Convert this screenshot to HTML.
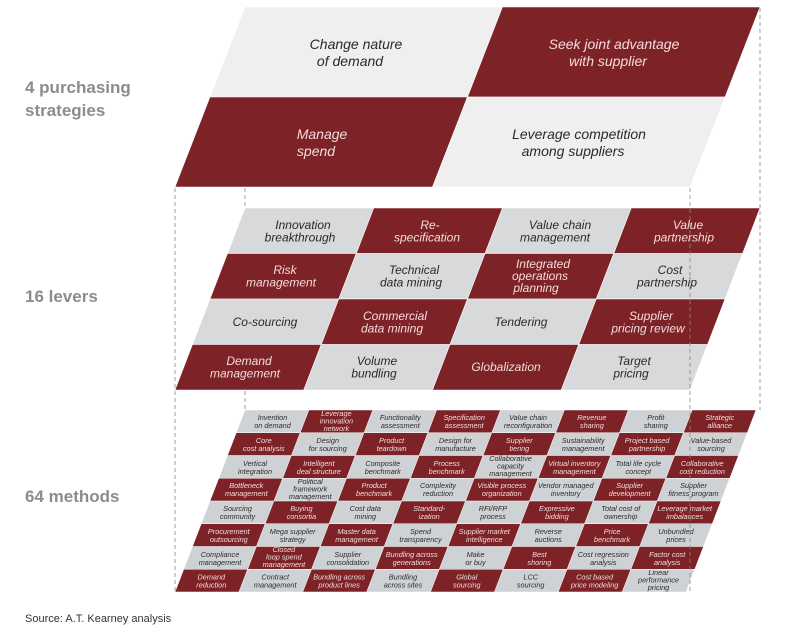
<!DOCTYPE html>
<html><head><meta charset="utf-8"><style>
html,body{margin:0;padding:0;background:#fff;}
svg{display:block;font-family:"Liberation Sans",sans-serif;}
.l{font-style:italic;fill:#2a2a2a;text-anchor:middle;}
.r{font-style:italic;fill:#f4dcdc;text-anchor:middle;}
.t{font-size:14px}.m{font-size:12px}.s{font-size:7.3px}
.lab{font-weight:bold;fill:#8c8c8c;font-size:17px}
</style></head><body>
<svg width="797" height="627" viewBox="0 0 797 627" xmlns="http://www.w3.org/2000/svg">
<!-- top layer -->
<g transform="translate(175,187) skewX(-21.25)" stroke="#fff" stroke-width="0.6">
<rect x="0" y="-180" width="257.5" height="90" fill="#efefef"/>
<rect x="257.5" y="-180" width="257.5" height="90" fill="#7d2328"/>
<rect x="0" y="-90" width="257.5" height="90" fill="#7d2328"/>
<rect x="257.5" y="-90" width="257.5" height="90" fill="#efefef"/>
</g>
<text class="l t" x="356" y="49">Change nature<tspan x="350" dy="17">of demand</tspan></text>
<text class="r t" x="614" y="49">Seek joint advantage<tspan x="608" dy="17">with supplier</tspan></text>
<text class="r t" x="322" y="139">Manage<tspan x="316" dy="17">spend</tspan></text>
<text class="l t" x="579" y="139">Leverage competition<tspan x="573" dy="17">among suppliers</tspan></text>

<!-- middle layer -->
<g transform="translate(175,390) skewX(-21.04)" stroke="#fff" stroke-width="0.6">
<rect x="0" y="-182" width="128.75" height="45.5" fill="#d7d9db"/>
<rect x="128.75" y="-182" width="128.75" height="45.5" fill="#7d2328"/>
<rect x="257.5" y="-182" width="128.75" height="45.5" fill="#d7d9db"/>
<rect x="386.25" y="-182" width="128.75" height="45.5" fill="#7d2328"/>
<rect x="0" y="-136.5" width="128.75" height="45.5" fill="#7d2328"/>
<rect x="128.75" y="-136.5" width="128.75" height="45.5" fill="#d7d9db"/>
<rect x="257.5" y="-136.5" width="128.75" height="45.5" fill="#7d2328"/>
<rect x="386.25" y="-136.5" width="128.75" height="45.5" fill="#d7d9db"/>
<rect x="0" y="-91" width="128.75" height="45.5" fill="#d7d9db"/>
<rect x="128.75" y="-91" width="128.75" height="45.5" fill="#7d2328"/>
<rect x="257.5" y="-91" width="128.75" height="45.5" fill="#d7d9db"/>
<rect x="386.25" y="-91" width="128.75" height="45.5" fill="#7d2328"/>
<rect x="0" y="-45.5" width="128.75" height="45.5" fill="#7d2328"/>
<rect x="128.75" y="-45.5" width="128.75" height="45.5" fill="#d7d9db"/>
<rect x="257.5" y="-45.5" width="128.75" height="45.5" fill="#7d2328"/>
<rect x="386.25" y="-45.5" width="128.75" height="45.5" fill="#d7d9db"/>
</g>
<text class="l m" x="303" y="229">Innovation<tspan x="300" dy="12.5">breakthrough</tspan></text>
<text class="r m" x="430" y="229">Re-<tspan x="427" dy="12.5">specification</tspan></text>
<text class="l m" x="560" y="229">Value chain<tspan x="555" dy="12.5">management</tspan></text>
<text class="r m" x="688" y="229">Value<tspan x="684" dy="12.5">partnership</tspan></text>
<text class="r m" x="285" y="274">Risk<tspan x="281" dy="12.5">management</tspan></text>
<text class="l m" x="414" y="274">Technical<tspan x="411" dy="12.5">data mining</tspan></text>
<text class="r m" x="543" y="268">Integrated<tspan x="540" dy="12">operations</tspan><tspan x="536" dy="12">planning</tspan></text>
<text class="l m" x="670" y="274">Cost<tspan x="667" dy="12.5">partnership</tspan></text>
<text class="l m" x="265" y="326">Co-sourcing</text>
<text class="r m" x="395" y="320">Commercial<tspan x="392" dy="12.5">data mining</tspan></text>
<text class="l m" x="521" y="326">Tendering</text>
<text class="r m" x="651" y="320">Supplier<tspan x="648" dy="12.5">pricing review</tspan></text>
<text class="r m" x="249" y="365">Demand<tspan x="245" dy="12.5">management</tspan></text>
<text class="l m" x="377" y="365">Volume<tspan x="374" dy="12.5">bundling</tspan></text>
<text class="r m" x="506" y="371">Globalization</text>
<text class="l m" x="634" y="365">Target<tspan x="631" dy="12.5">pricing</tspan></text>

<!-- bottom layer -->
<g transform="translate(175,592) skewX(-21.04)" stroke="#fff" stroke-width="0.5">
<g fill="#cfd2d5"><rect x="0" y="-182" width="511" height="182"/></g>
<g fill="#7d2328">
<rect x="63.875" y="-182" width="63.875" height="22.75"/><rect x="191.625" y="-182" width="63.875" height="22.75"/><rect x="319.375" y="-182" width="63.875" height="22.75"/><rect x="447.125" y="-182" width="63.875" height="22.75"/>
<rect x="0" y="-159.25" width="63.875" height="22.75"/><rect x="127.75" y="-159.25" width="63.875" height="22.75"/><rect x="255.5" y="-159.25" width="63.875" height="22.75"/><rect x="383.25" y="-159.25" width="63.875" height="22.75"/>
<rect x="63.875" y="-136.5" width="63.875" height="22.75"/><rect x="191.625" y="-136.5" width="63.875" height="22.75"/><rect x="319.375" y="-136.5" width="63.875" height="22.75"/><rect x="447.125" y="-136.5" width="63.875" height="22.75"/>
<rect x="0" y="-113.75" width="63.875" height="22.75"/><rect x="127.75" y="-113.75" width="63.875" height="22.75"/><rect x="255.5" y="-113.75" width="63.875" height="22.75"/><rect x="383.25" y="-113.75" width="63.875" height="22.75"/>
<rect x="63.875" y="-91" width="63.875" height="22.75"/><rect x="191.625" y="-91" width="63.875" height="22.75"/><rect x="319.375" y="-91" width="63.875" height="22.75"/><rect x="447.125" y="-91" width="63.875" height="22.75"/>
<rect x="0" y="-68.25" width="63.875" height="22.75"/><rect x="127.75" y="-68.25" width="63.875" height="22.75"/><rect x="255.5" y="-68.25" width="63.875" height="22.75"/><rect x="383.25" y="-68.25" width="63.875" height="22.75"/>
<rect x="63.875" y="-45.5" width="63.875" height="22.75"/><rect x="191.625" y="-45.5" width="63.875" height="22.75"/><rect x="319.375" y="-45.5" width="63.875" height="22.75"/><rect x="447.125" y="-45.5" width="63.875" height="22.75"/>
<rect x="0" y="-22.75" width="63.875" height="22.75"/><rect x="127.75" y="-22.75" width="63.875" height="22.75"/><rect x="255.5" y="-22.75" width="63.875" height="22.75"/><rect x="383.25" y="-22.75" width="63.875" height="22.75"/>
</g></g>
<!-- row0 y 421.4 shift 65.6 -->
<text class="l s" x="272.5" y="420">Invention<tspan x="272.5" dy="8">on demand</tspan></text>
<text class="r s" x="336.4" y="416">Leverage<tspan x="336.4" dy="7.5">innovation</tspan><tspan x="336.4" dy="7.5">network</tspan></text>
<text class="l s" x="400.3" y="420">Functionality<tspan x="400.3" dy="8">assessment</tspan></text>
<text class="r s" x="464.2" y="420">Specification<tspan x="464.2" dy="8">assessment</tspan></text>
<text class="l s" x="528" y="420">Value chain<tspan x="528" dy="8">reconfiguration</tspan></text>
<text class="r s" x="591.9" y="420">Revenue<tspan x="591.9" dy="8">sharing</tspan></text>
<text class="l s" x="655.8" y="420">Profit<tspan x="655.8" dy="8">sharing</tspan></text>
<text class="r s" x="719.7" y="420">Strategic<tspan x="719.7" dy="8">alliance</tspan></text>
<!-- row1 y 444.1 shift 56.9 -->
<text class="r s" x="263.8" y="443">Core<tspan x="263.8" dy="8">cost analysis</tspan></text>
<text class="l s" x="327.7" y="443">Design<tspan x="327.7" dy="8">for sourcing</tspan></text>
<text class="r s" x="391.6" y="443">Product<tspan x="391.6" dy="8">teardown</tspan></text>
<text class="l s" x="455.5" y="443">Design for<tspan x="455.5" dy="8">manufacture</tspan></text>
<text class="r s" x="519.3" y="443">Supplier<tspan x="519.3" dy="8">tiering</tspan></text>
<text class="l s" x="583.2" y="443">Sustainability<tspan x="583.2" dy="8">management</tspan></text>
<text class="r s" x="647.1" y="443">Project based<tspan x="647.1" dy="8">partnership</tspan></text>
<text class="l s" x="711" y="443">Value-based<tspan x="711" dy="8">sourcing</tspan></text>
<!-- row2 y 466.9 shift 48.1 -->
<text class="l s" x="255" y="466">Vertical<tspan x="255" dy="8">integration</tspan></text>
<text class="r s" x="318.9" y="466">Intelligent<tspan x="318.9" dy="8">deal structure</tspan></text>
<text class="l s" x="382.8" y="466">Composite<tspan x="382.8" dy="8">benchmark</tspan></text>
<text class="r s" x="446.7" y="466">Process<tspan x="446.7" dy="8">benchmark</tspan></text>
<text class="l s" x="510.5" y="461">Collaborative<tspan x="510.5" dy="7.5">capacity</tspan><tspan x="510.5" dy="7.5">management</tspan></text>
<text class="r s" x="574.4" y="466">Virtual inventory<tspan x="574.4" dy="8">management</tspan></text>
<text class="l s" x="638.3" y="466">Total life cycle<tspan x="638.3" dy="8">concept</tspan></text>
<text class="r s" x="702.2" y="466">Collaborative<tspan x="702.2" dy="8">cost reduction</tspan></text>
<!-- row3 y 489.6 shift 39.4 -->
<text class="r s" x="246.3" y="488">Bottleneck<tspan x="246.3" dy="8">management</tspan></text>
<text class="l s" x="310.2" y="484">Political<tspan x="310.2" dy="7.5">framework</tspan><tspan x="310.2" dy="7.5">management</tspan></text>
<text class="r s" x="374.1" y="488">Product<tspan x="374.1" dy="8">benchmark</tspan></text>
<text class="l s" x="438" y="488">Complexity<tspan x="438" dy="8">reduction</tspan></text>
<text class="r s" x="501.8" y="488">Visible process<tspan x="501.8" dy="8">organization</tspan></text>
<text class="l s" x="565.7" y="488">Vendor managed<tspan x="565.7" dy="8">inventory</tspan></text>
<text class="r s" x="629.6" y="488">Supplier<tspan x="629.6" dy="8">development</tspan></text>
<text class="l s" x="693.5" y="488">Supplier<tspan x="693.5" dy="8">fitness program</tspan></text>
<!-- row4 y 512.4 shift 30.6 -->
<text class="l s" x="237.5" y="511">Sourcing<tspan x="237.5" dy="8">community</tspan></text>
<text class="r s" x="301.4" y="511">Buying<tspan x="301.4" dy="8">consortia</tspan></text>
<text class="l s" x="365.3" y="511">Cost data<tspan x="365.3" dy="8">mining</tspan></text>
<text class="r s" x="429.2" y="511">Standard-<tspan x="429.2" dy="8">ization</tspan></text>
<text class="l s" x="493" y="511">RFI/RFP<tspan x="493" dy="8">process</tspan></text>
<text class="r s" x="556.9" y="511">Expressive<tspan x="556.9" dy="8">bidding</tspan></text>
<text class="l s" x="620.8" y="511">Total cost of<tspan x="620.8" dy="8">ownership</tspan></text>
<text class="r s" x="684.7" y="511">Leverage market<tspan x="684.7" dy="8">imbalances</tspan></text>
<!-- row5 y 535.1 shift 21.9 -->
<text class="r s" x="228.8" y="534">Procurement<tspan x="228.8" dy="8">outsourcing</tspan></text>
<text class="l s" x="292.7" y="534">Mega supplier<tspan x="292.7" dy="8">strategy</tspan></text>
<text class="r s" x="356.6" y="534">Master data<tspan x="356.6" dy="8">management</tspan></text>
<text class="l s" x="420.5" y="534">Spend<tspan x="420.5" dy="8">transparency</tspan></text>
<text class="r s" x="484.3" y="534">Supplier market<tspan x="484.3" dy="8">intelligence</tspan></text>
<text class="l s" x="548.2" y="534">Reverse<tspan x="548.2" dy="8">auctions</tspan></text>
<text class="r s" x="612.1" y="534">Price<tspan x="612.1" dy="8">benchmark</tspan></text>
<text class="l s" x="676" y="534">Unbundled<tspan x="676" dy="8">prices</tspan></text>
<!-- row6 y 557.9 shift 13.1 -->
<text class="l s" x="220" y="557">Compliance<tspan x="220" dy="8">management</tspan></text>
<text class="r s" x="283.9" y="552">Closed<tspan x="283.9" dy="7.5">loop spend</tspan><tspan x="283.9" dy="7.5">management</tspan></text>
<text class="l s" x="347.8" y="557">Supplier<tspan x="347.8" dy="8">consolidation</tspan></text>
<text class="r s" x="411.7" y="557">Bundling across<tspan x="411.7" dy="8">generations</tspan></text>
<text class="l s" x="475.5" y="557">Make<tspan x="475.5" dy="8">or buy</tspan></text>
<text class="r s" x="539.4" y="557">Best<tspan x="539.4" dy="8">shoring</tspan></text>
<text class="l s" x="603.3" y="557">Cost regression<tspan x="603.3" dy="8">analysis</tspan></text>
<text class="r s" x="667.2" y="557">Factor cost<tspan x="667.2" dy="8">analysis</tspan></text>
<!-- row7 y 580.6 shift 4.4 -->
<text class="r s" x="211.3" y="579.5">Demand<tspan x="211.3" dy="8">reduction</tspan></text>
<text class="l s" x="275.2" y="579.5">Contract<tspan x="275.2" dy="8">management</tspan></text>
<text class="r s" x="339.1" y="579.5">Bundling across<tspan x="339.1" dy="8">product lines</tspan></text>
<text class="l s" x="403" y="579.5">Bundling<tspan x="403" dy="8">across sites</tspan></text>
<text class="r s" x="466.8" y="579.5">Global<tspan x="466.8" dy="8">sourcing</tspan></text>
<text class="l s" x="530.7" y="579.5">LCC<tspan x="530.7" dy="8">sourcing</tspan></text>
<text class="r s" x="594.6" y="579.5">Cost based<tspan x="594.6" dy="8">price modeling</tspan></text>
<text class="l s" x="658.5" y="575">Linear<tspan x="658.5" dy="7.5">performance</tspan><tspan x="658.5" dy="7.5">pricing</tspan></text>

<!-- dashed guides -->
<g stroke="#888" stroke-width="0.8" stroke-dasharray="4,3" fill="none">
<line x1="175" y1="188" x2="175" y2="592"/>
<line x1="245" y1="188" x2="245" y2="208"/>
<line x1="245" y1="391" x2="245" y2="410"/>
<line x1="690" y1="188" x2="690" y2="592"/>
<line x1="760" y1="8" x2="760" y2="410"/>
</g>

<text class="lab" x="25" y="93">4 purchasing</text>
<text class="lab" x="25" y="116">strategies</text>
<text class="lab" x="25" y="302">16 levers</text>
<text class="lab" x="25" y="502">64 methods</text>
<text x="25" y="622" font-size="11" fill="#333">Source: A.T. Kearney analysis</text>
</svg>
</body></html>
